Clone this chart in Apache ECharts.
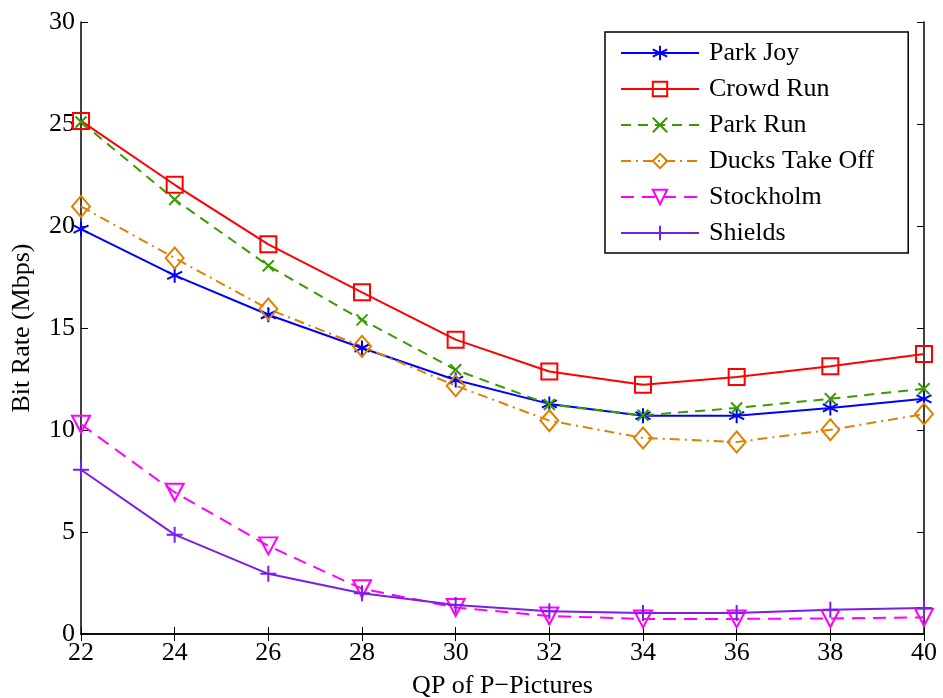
<!DOCTYPE html>
<html>
<head>
<meta charset="utf-8">
<script src="https://cdn.jsdelivr.net/npm/echarts@6/dist/echarts.min.js"></script>
<style>
  html, body { margin: 0; padding: 0; background: #ffffff; }
  #chart { width: 943px; height: 698px; }
</style>
</head>
<body>
<div id="chart"></div>
<script>
// QP values on the x axis
var qp = [22, 24, 26, 28, 30, 32, 34, 36, 38, 40];

// bit rate (Mbps) per sequence
var parkJoy      = [19.85, 17.58, 15.65, 14.02, 12.45, 11.28, 10.70, 10.70, 11.08, 11.53];
var crowdRun     = [25.15, 22.02, 19.10, 16.75, 14.43, 12.87, 12.22, 12.60, 13.12, 13.72];
var parkRun      = [25.10, 21.30, 18.05, 15.40, 12.95, 11.25, 10.72, 11.08, 11.53, 12.02];
var ducksTakeOff = [20.96, 18.43, 15.93, 14.10, 12.17, 10.46, 9.61, 9.41, 10.01, 10.78];
var stockholm    = [10.28, 6.95, 4.32, 2.22, 1.30, 0.88, 0.74, 0.74, 0.76, 0.82];
var shields      = [8.05, 4.87, 2.95, 2.00, 1.42, 1.11, 1.03, 1.03, 1.19, 1.27];

var seriesNames = ['Park Joy', 'Crowd Run', 'Park Run', 'Ducks Take Off', 'Stockholm', 'Shields'];

function pairs(arr) {
  return arr.map(function (v, i) { return [qp[i], v]; });
}

// MATLAB-like marker shapes
var mkStar  = 'path://M0,-10L0,10M-8.66,-5L8.66,5M-8.66,5L8.66,-5';
var mkSq    = 'path://M-10,-10L10,-10L10,10L-10,10Z';
var mkX     = 'path://M-10,-10L10,10M-10,10L10,-10';
var mkDia   = 'path://M0,-10L10,0L0,10L-10,0Z';
var mkTri   = 'path://M-10,-8L10,-8L0,10Z';
var mkPlus  = 'path://M0,-10L0,10M-10,0L10,0';

function mkSeries(name, data, color, symbol, size, dash) {
  return {
    name: name,
    type: 'line',
    data: pairs(data),
    symbol: symbol,
    symbolSize: size,
    showAllSymbol: true,
    animation: false,
    lineStyle: { color: color, width: 2, type: dash || 'solid' },
    itemStyle: { color: 'rgba(0,0,0,0)', borderColor: color, borderWidth: 2 },
    emphasis: { disabled: true }
  };
}

var font = 'Liberation Serif';
var chart = echarts.init(document.getElementById('chart'));

var option = {
  backgroundColor: '#ffffff',
  grid: { left: 81, right: 19, top: 22, bottom: 64, show: false, outerBoundsMode: 'none' },
  legend: {
    data: seriesNames,
    orient: 'vertical',
    left: 605,
    top: 32,
    padding: [8, 34, 7, 15],
    itemWidth: 78,
    itemHeight: 18,
    itemGap: 10,
    borderColor: '#000',
    borderWidth: 1.5,
    borderRadius: 0,
    backgroundColor: '#fff',
    textStyle: { fontFamily: font, fontSize: 26, lineHeight: 26, color: '#000', padding: [0, 0, 0, 5] }
  },
  xAxis: [{
    type: 'value',
    min: 22, max: 40, interval: 2,
    name: 'QP of P\u2212Pictures',
    nameLocation: 'middle',
    nameGap: 39,
    nameTextStyle: { fontFamily: font, fontSize: 26, color: '#000' },
    axisLine: { show: true, lineStyle: { color: '#000', width: 1.5 } },
    axisTick: { show: true, inside: true, length: 7, lineStyle: { color: '#000' } },
    axisLabel: { fontFamily: font, fontSize: 26, color: '#000', margin: 6 },
    splitLine: { show: false }
  }, {
    type: 'value', position: 'top',
    min: 22, max: 40, interval: 2,
    axisLine: { show: true, lineStyle: { color: '#000', width: 1.5 } },
    axisTick: { show: true, inside: true, length: 7, lineStyle: { color: '#000' } },
    axisLabel: { show: false },
    splitLine: { show: false }
  }],
  yAxis: [{
    type: 'value',
    min: 0, max: 30, interval: 5,
    name: 'Bit Rate (Mbps)',
    nameLocation: 'middle',
    nameGap: 46,
    nameTextStyle: { fontFamily: font, fontSize: 26, color: '#000' },
    axisLine: { show: true, lineStyle: { color: '#000', width: 1.5 } },
    axisTick: { show: true, inside: true, length: 7, lineStyle: { color: '#000' } },
    axisLabel: { fontFamily: font, fontSize: 26, color: '#000', margin: 6 },
    splitLine: { show: false }
  }, {
    type: 'value', position: 'right',
    min: 0, max: 30, interval: 5,
    axisLine: { show: true, lineStyle: { color: '#000', width: 1.5 } },
    axisTick: { show: true, inside: true, length: 7, lineStyle: { color: '#000' } },
    axisLabel: { show: false },
    splitLine: { show: false }
  }],
  series: [
    mkSeries('Park Joy', parkJoy, '#0000ff', mkStar, 15),
    mkSeries('Crowd Run', crowdRun, '#ff0000', mkSq, 16),
    mkSeries('Park Run', parkRun, '#3a9a00', mkX, 11, [10, 7]),
    mkSeries('Ducks Take Off', ducksTakeOff, '#e08000', mkDia, [18, 21], [10, 5, 2, 5]),
    mkSeries('Stockholm', stockholm, '#ff00ff', mkTri, [18, 17], [13, 8]),
    mkSeries('Shields', shields, '#7a1fe6', mkPlus, 16)
  ]
};

chart.setOption(option);
</script>
</body>
</html>
